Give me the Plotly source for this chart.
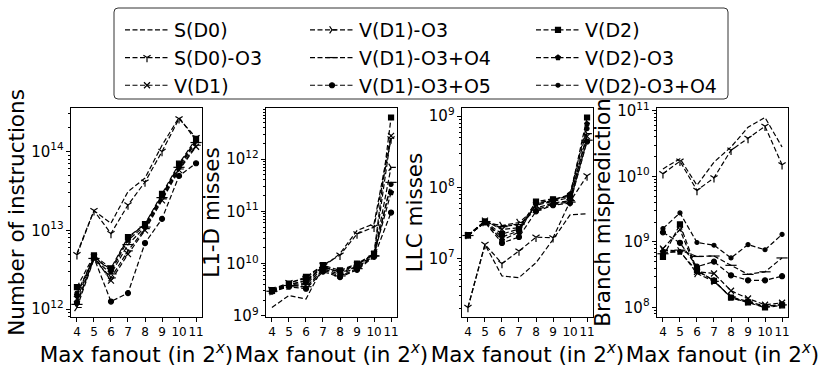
import math
import plotly.graph_objects as go

# ---------------- data ----------------
x_vals = [4, 5, 6, 7, 8, 9, 10, 11]
x_ticklabels = ["4", "5", "6", "7", "8", "9", "10", "11"]

series_names = ["S(D0)", "S(D0)-O3", "V(D1)", "V(D1)-O3", "V(D1)-O3+O4",
                "V(D1)-O3+O5", "V(D2)", "V(D2)-O3", "V(D2)-O3+O4"]

# Number of instructions (one list per series, same order as series_names)
instructions = [
    [5.1e12, 1.78e13, 1.23e13, 3.1e13, 4.6e13, 1.2e14, 2.7e14, 1.38e14],
    [4.9e12, 1.78e13, 9.1e12, 2.1e13, 4.1e13, 1.0e14, 2.6e14, 1.5e14],
    [1.35e12, 4.6e12, 2.3e12, 5.0e12, 1.0e13, 2.4e13, 5.8e13, 1.15e14],
    [1.05e12, 4.3e12, 2.5e12, 5.5e12, 1.05e13, 2.5e13, 6.0e13, 1.2e14],
    [1.15e12, 4.4e12, 2.8e12, 6.6e12, 1.1e13, 2.6e13, 6.3e13, 1.3e14],
    [1.2e12, 4.5e12, 1.25e12, 1.6e12, 6.9e12, 1.4e13, 4.9e13, 7.1e13],
    [1.9e12, 4.8e12, 3.3e12, 8.2e12, 1.2e13, 2.9e13, 7.0e13, 1.45e14],
    [1.5e12, 4.7e12, 3.0e12, 7.5e12, 1.15e13, 2.8e13, 6.8e13, 1.4e14],
    [1.6e12, 4.5e12, 3.2e12, 8.0e12, 1.2e13, 2.75e13, 6.6e13, 1.35e14],
]

# L1-D misses
l1d_misses = [
    [1.44e9, 2.45e9, 2.1e9, 8.6e9, 1.55e10, 4.3e10, 5.8e10, 3.0e12],
    [3.2e9, 4.3e9, 5.2e9, 9.3e9, 1.45e10, 3.7e10, 5.0e10, 2.45e12],
    [3.0e9, 3.9e9, 4.8e9, 8.8e9, 6.8e9, 9.5e9, 1.5e10, 2.8e12],
    [2.9e9, 3.7e9, 4.0e9, 8.0e9, 6.2e9, 8.5e9, 1.4e10, 7.0e11],
    [2.95e9, 3.8e9, 3.6e9, 7.5e9, 5.8e9, 8.0e9, 1.4e10, 3.6e11],
    [2.9e9, 3.6e9, 3.3e9, 7.0e9, 5.5e9, 7.6e9, 1.35e10, 9.5e10],
    [3.1e9, 4.15e9, 5.55e9, 9.3e9, 7.4e9, 1.0e10, 1.55e10, 6.3e12],
    [3.0e9, 4.0e9, 4.6e9, 8.5e9, 7.0e9, 9.8e9, 1.5e10, 2.3e11],
    [3.05e9, 3.9e9, 4.2e9, 9.0e9, 6.5e9, 9.0e9, 1.45e10, 3.3e11],
]

# LLC misses
llc_misses = [
    [2.04e6, 1.57e7, 5.66e6, 5.37e6, 8.7e6, 1.84e7, 4.1e7, 4.25e7],
    [2.04e6, 1.57e7, 8.5e6, 1.27e7, 1.99e7, 1.95e7, 6.3e7, 1.45e8],
    [2.1e7, 3.4e7, 2.55e7, 2.7e7, 5.6e7, 6.3e7, 7.2e7, 5.2e8],
    [2.1e7, 3.2e7, 2.9e7, 3.2e7, 5.1e7, 6.0e7, 6.5e7, 5.7e8],
    [2.1e7, 3.3e7, 2.8e7, 3.0e7, 4.8e7, 5.8e7, 6.2e7, 4.6e8],
    [2.1e7, 3.2e7, 1.65e7, 2.0e7, 4.6e7, 5.6e7, 6.0e7, 4.4e8],
    [2.12e7, 3.3e7, 2.2e7, 2.6e7, 6.3e7, 6.8e7, 7.5e7, 9.6e8],
    [2.1e7, 3.3e7, 1.8e7, 2.35e7, 6.0e7, 6.6e7, 8.0e7, 7.8e8],
    [2.1e7, 3.25e7, 2.0e7, 2.45e7, 5.8e7, 6.5e7, 7.8e7, 6.7e8],
]

# Branch mispredictions
branch_mispred = [
    [1.3e10, 1.86e10, 7.3e9, 1.65e10, 2.8e10, 5.6e10, 7.9e10, 2.8e10],
    [1.1e10, 1.7e10, 6.1e9, 9.5e9, 2.5e10, 3.8e10, 5.8e10, 1.5e10],
    [7.9e8, 1.54e9, 3.5e8, 3.3e8, 1.8e8, 1.37e8, 1.1e8, 1.18e8],
    [7.5e8, 7.3e8, 3.3e8, 2.5e8, 1.45e8, 1.22e8, 1.05e8, 1.1e8],
    [6.6e8, 7.5e8, 6.0e8, 6.1e8, 4.4e8, 3.2e8, 3.5e8, 5.7e8],
    [1.4e9, 9.7e8, 4.2e8, 5.0e8, 3.1e8, 2.6e8, 2.6e8, 3.0e8],
    [5.9e8, 1.85e9, 3.7e8, 2.55e8, 1.42e8, 1.2e8, 1.0e8, 1.08e8],
    [7.0e8, 7.0e8, 3.6e8, 2.6e8, 1.4e8, 1.2e8, 1.02e8, 1.12e8],
    [1.6e9, 2.77e9, 9.8e8, 8.9e8, 5.7e8, 9.1e8, 7.6e8, 1.3e9],
]

panel_data = [instructions, l1d_misses, llc_misses, branch_mispred]
y_titles = ["Number of instructions", "L1-D misses", "LLC misses", "Branch misprediction"]
x_title = "Max fanout (in 2<sup><i>x</i></sup>)"

# ---------------- style ----------------
symbols = [None, "y-down", "x-thin", "y-right", "line-ew", "circle", "square", "pentagon", "circle"]
sizes = [0, 6, 6, 6, 8, 5, 5, 5, 4]
legend_ids = ["legend", "legend", "legend", "legend2", "legend2", "legend2",
              "legend3", "legend3", "legend3"]

W, H = 830, 372
m_l, m_r, m_t, m_b = 71, 42, 108, 55
plot_w = W - m_l - m_r
plot_h = H - m_t - m_b
panel_left_px = [71, 266, 462, 657]
panel_w_px = 131

FONT = "DejaVu Sans"
fig = go.Figure()

for p, data in enumerate(panel_data):
    ax = "" if p == 0 else str(p + 1)
    for i, name in enumerate(series_names):
        sym = symbols[i]
        marker = dict(color="black", size=sizes[i], symbol=sym if sym else "circle",
                      line=dict(color="black", width=1.2))
        fig.add_trace(go.Scatter(
            x=x_vals, y=data[i], name=name,
            mode="lines" if sym is None else "lines+markers",
            line=dict(color="black", width=1.2, dash="5px,2.5px"),
            marker=marker,
            xaxis="x" + ax, yaxis="y" + ax,
            showlegend=(p == 0), legend=legend_ids[i],
        ))

    logs = [math.log10(v) for s in data for v in s]
    lo, hi = min(logs), max(logs)
    pad = 0.05 * (hi - lo)
    d0 = (panel_left_px[p] - m_l) / plot_w
    d1 = (panel_left_px[p] + panel_w_px - m_l) / plot_w
    fig.update_layout(**{
        "xaxis" + ax: dict(
            domain=[d0, min(d1, 1.0)], range=[3.65, 11.35],
            tickmode="array", tickvals=x_vals, ticktext=x_ticklabels,
            tickangle=0,
            ticks="outside", ticklen=4, tickcolor="black",
            showline=True, mirror=True, linecolor="black", linewidth=1,
            showgrid=False, zeroline=False,
            tickfont=dict(family=FONT, size=12, color="black"),
            title=dict(text=x_title, font=dict(family=FONT, size=21.5, color="black"),
                       standoff=4),
            anchor="y" + ax,
        ),
        "yaxis" + ax: dict(
            type="log", range=[lo - pad, hi + pad], dtick=1,
            exponentformat="power", showexponent="all",
            ticks="outside", ticklen=4, tickcolor="black",
            minor=dict(ticks="outside", ticklen=2, tickcolor="black", dtick="D1", showgrid=False),
            showline=True, mirror=True, linecolor="black", linewidth=1,
            showgrid=False, zeroline=False,
            tickfont=dict(family=FONT, size=12, color="black"),
            title=dict(text=y_titles[p], font=dict(family=FONT, size=21.5, color="black"),
                       standoff=0),
            anchor="x" + ax,
        ),
    })

# legend columns
leg_col_px = [120, 305, 531]
leg_top_px = 11
def px_to_paper_x(px):
    return (px - m_l) / plot_w
def px_to_paper_y(py):
    return (H - m_b - py) / plot_h

leg_common = dict(orientation="v", yanchor="top", xanchor="left",
                  font=dict(family=FONT, size=19, color="black"),
                  bgcolor="rgba(0,0,0,0)", borderwidth=0, itemwidth=44,
                  tracegroupgap=0)
fig.update_layout(
    legend=dict(x=px_to_paper_x(leg_col_px[0]), y=px_to_paper_y(leg_top_px), **leg_common),
    legend2=dict(x=px_to_paper_x(leg_col_px[1]), y=px_to_paper_y(leg_top_px), **leg_common),
    legend3=dict(x=px_to_paper_x(leg_col_px[2]), y=px_to_paper_y(leg_top_px), **leg_common),
)

# legend frame (rounded rectangle)
bx0, bx1 = px_to_paper_x(114), px_to_paper_x(728)
by1, by0 = px_to_paper_y(8), px_to_paper_y(99)
rx, ry = 4 / plot_w, 4 / plot_h
path = (f"M{bx0+rx},{by0} L{bx1-rx},{by0} Q{bx1},{by0} {bx1},{by0+ry} "
        f"L{bx1},{by1-ry} Q{bx1},{by1} {bx1-rx},{by1} L{bx0+rx},{by1} "
        f"Q{bx0},{by1} {bx0},{by1-ry} L{bx0},{by0+ry} Q{bx0},{by0} {bx0+rx},{by0} Z")
fig.add_shape(type="path", path=path, xref="paper", yref="paper",
              line=dict(color="#333333", width=1), fillcolor="white", layer="below")

fig.update_layout(
    width=W, height=H,
    margin=dict(l=m_l, r=m_r, t=m_t, b=m_b, autoexpand=False),
    paper_bgcolor="white", plot_bgcolor="white",
    font=dict(family=FONT, color="black"),
)

fig.write_html("out.html", config={"displayModeBar": False},
               post_script="document.body.style.margin='0';")
